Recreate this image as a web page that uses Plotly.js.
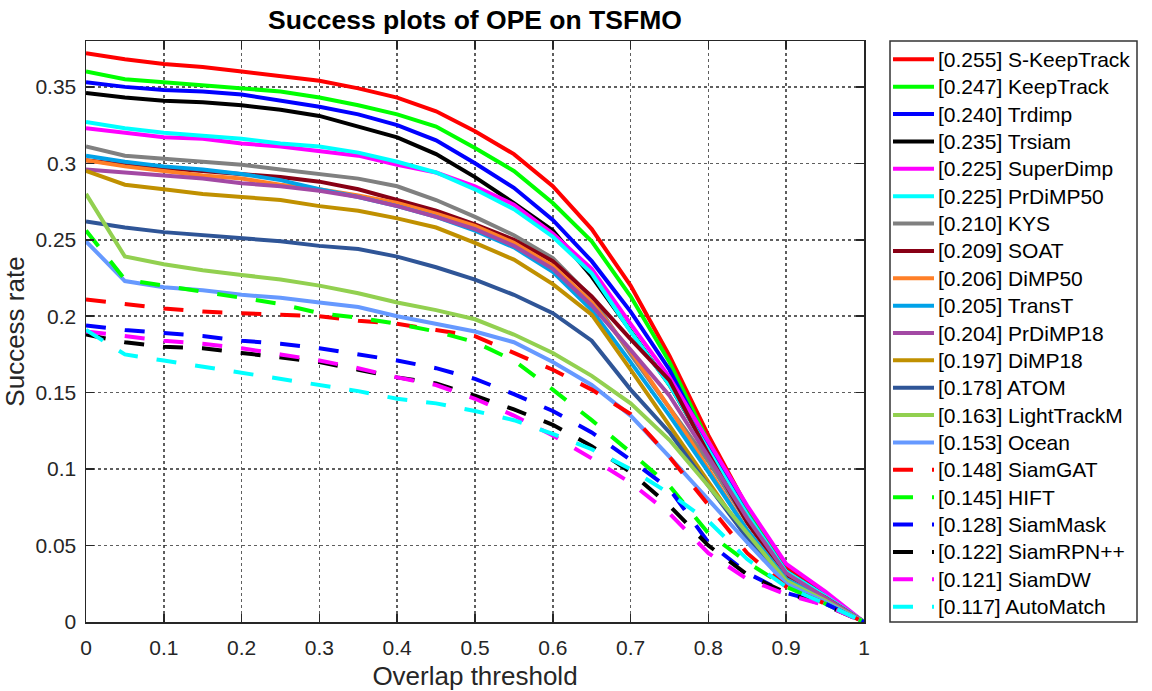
<!DOCTYPE html>
<html>
<head>
<meta charset="utf-8">
<script src="https://cdn.plot.ly/plotly-3.0.1.min.js"></script>
<style>
  html, body { margin: 0; padding: 0; background: #fff; }
  #chart { width: 1152px; height: 691px; }
</style>
</head>
<body>
<div id="chart"></div>
<script>
// overlap thresholds 0:0.05:1
let thresholds = [0, 0.05, 0.1, 0.15, 0.2, 0.25, 0.3, 0.35, 0.4, 0.45, 0.5,
                  0.55, 0.6, 0.65, 0.7, 0.75, 0.8, 0.85, 0.9, 0.95, 1];

let names = ['S-KeepTrack', 'KeepTrack', 'Trdimp', 'Trsiam', 'SuperDimp', 'PrDiMP50',
             'KYS', 'SOAT', 'DiMP50', 'TransT', 'PrDiMP18', 'DiMP18', 'ATOM',
             'LightTrackM', 'Ocean', 'SiamGAT', 'HIFT', 'SiamMask', 'SiamRPN++',
             'SiamDW', 'AutoMatch'];
let auc = ['0.255', '0.247', '0.240', '0.235', '0.225', '0.225', '0.210', '0.209',
           '0.206', '0.205', '0.204', '0.197', '0.178', '0.163', '0.153', '0.148',
           '0.145', '0.128', '0.122', '0.121', '0.117'];

// success rate curves
let sKeepTrack  = [0.372, 0.368, 0.365, 0.363, 0.360, 0.357, 0.354, 0.349, 0.343, 0.334, 0.321, 0.306, 0.285, 0.257, 0.220, 0.174, 0.122, 0.075, 0.036, 0.018, 0];
let keepTrack   = [0.360, 0.355, 0.353, 0.351, 0.349, 0.347, 0.343, 0.338, 0.332, 0.324, 0.310, 0.295, 0.274, 0.249, 0.213, 0.170, 0.118, 0.072, 0.033, 0.017, 0];
let trdimp      = [0.353, 0.350, 0.348, 0.347, 0.345, 0.341, 0.337, 0.332, 0.325, 0.315, 0.300, 0.284, 0.263, 0.236, 0.203, 0.165, 0.115, 0.070, 0.033, 0.017, 0];
let trsiam      = [0.346, 0.343, 0.341, 0.340, 0.338, 0.335, 0.331, 0.324, 0.317, 0.306, 0.291, 0.274, 0.256, 0.226, 0.190, 0.155, 0.112, 0.068, 0.033, 0.017, 0];
let superDimp   = [0.323, 0.320, 0.317, 0.316, 0.313, 0.311, 0.308, 0.305, 0.299, 0.294, 0.285, 0.273, 0.254, 0.231, 0.195, 0.160, 0.118, 0.076, 0.038, 0.020, 0];
let prDiMP50    = [0.327, 0.323, 0.320, 0.318, 0.316, 0.313, 0.311, 0.307, 0.301, 0.294, 0.283, 0.270, 0.252, 0.228, 0.190, 0.155, 0.113, 0.070, 0.033, 0.017, 0];
let kys         = [0.311, 0.305, 0.303, 0.301, 0.299, 0.296, 0.293, 0.290, 0.285, 0.276, 0.265, 0.253, 0.238, 0.212, 0.175, 0.140, 0.105, 0.065, 0.030, 0.016, 0];
let soat        = [0.302, 0.299, 0.297, 0.295, 0.293, 0.291, 0.288, 0.283, 0.276, 0.269, 0.260, 0.250, 0.236, 0.213, 0.185, 0.158, 0.110, 0.065, 0.030, 0.016, 0];
let diMP50      = [0.302, 0.298, 0.295, 0.292, 0.290, 0.286, 0.283, 0.279, 0.274, 0.267, 0.259, 0.248, 0.233, 0.209, 0.177, 0.140, 0.100, 0.060, 0.028, 0.015, 0];
let transT      = [0.305, 0.301, 0.298, 0.296, 0.293, 0.289, 0.283, 0.278, 0.272, 0.265, 0.256, 0.245, 0.229, 0.204, 0.170, 0.135, 0.098, 0.060, 0.028, 0.015, 0];
let prDiMP18    = [0.296, 0.294, 0.292, 0.290, 0.287, 0.285, 0.282, 0.278, 0.272, 0.265, 0.257, 0.246, 0.231, 0.207, 0.178, 0.148, 0.108, 0.068, 0.032, 0.016, 0];
let diMP18      = [0.295, 0.286, 0.283, 0.280, 0.278, 0.276, 0.272, 0.269, 0.264, 0.258, 0.248, 0.237, 0.221, 0.201, 0.165, 0.128, 0.092, 0.055, 0.025, 0.013, 0];
let atom        = [0.262, 0.258, 0.255, 0.253, 0.251, 0.249, 0.246, 0.244, 0.239, 0.232, 0.224, 0.214, 0.202, 0.184, 0.152, 0.124, 0.089, 0.055, 0.025, 0.013, 0];
let lightTrackM = [0.280, 0.239, 0.234, 0.230, 0.227, 0.224, 0.220, 0.215, 0.209, 0.204, 0.198, 0.188, 0.176, 0.161, 0.143, 0.119, 0.089, 0.058, 0.027, 0.014, 0];
let ocean       = [0.249, 0.223, 0.219, 0.217, 0.214, 0.212, 0.209, 0.206, 0.200, 0.195, 0.190, 0.183, 0.170, 0.155, 0.135, 0.108, 0.080, 0.052, 0.025, 0.013, 0];
let siamGAT     = [0.211, 0.208, 0.205, 0.203, 0.202, 0.201, 0.200, 0.197, 0.195, 0.191, 0.187, 0.176, 0.165, 0.152, 0.136, 0.108, 0.076, 0.045, 0.023, 0.012, 0];
let hift        = [0.256, 0.224, 0.220, 0.216, 0.212, 0.208, 0.202, 0.199, 0.195, 0.190, 0.183, 0.171, 0.152, 0.132, 0.111, 0.089, 0.058, 0.039, 0.023, 0.012, 0];
let siamMask    = [0.194, 0.191, 0.189, 0.187, 0.184, 0.182, 0.179, 0.175, 0.171, 0.166, 0.159, 0.149, 0.138, 0.124, 0.106, 0.087, 0.052, 0.032, 0.019, 0.012, 0];
let siamRPNpp   = [0.188, 0.183, 0.180, 0.179, 0.176, 0.173, 0.170, 0.165, 0.160, 0.156, 0.148, 0.139, 0.129, 0.115, 0.098, 0.076, 0.050, 0.031, 0.019, 0.011, 0];
let siamDW      = [0.190, 0.187, 0.184, 0.182, 0.179, 0.175, 0.171, 0.166, 0.160, 0.155, 0.146, 0.135, 0.122, 0.107, 0.091, 0.071, 0.045, 0.028, 0.018, 0.011, 0];
let autoMatch   = [0.191, 0.175, 0.171, 0.167, 0.163, 0.159, 0.155, 0.151, 0.146, 0.143, 0.138, 0.132, 0.123, 0.113, 0.100, 0.084, 0.066, 0.041, 0.023, 0.012, 0];

let curves = [sKeepTrack, keepTrack, trdimp, trsiam, superDimp, prDiMP50, kys, soat,
              diMP50, transT, prDiMP18, diMP18, atom, lightTrackM, ocean, siamGAT,
              hift, siamMask, siamRPNpp, siamDW, autoMatch];

let colors = ['#ff0000', '#00ff00', '#0000ff', '#000000', '#ff00ff', '#00ffff',
              '#808080', '#880015', '#ff7f27', '#00a2e8', '#a349a4', '#c09000',
              '#2f5597', '#92d050', '#6699ff',
              '#ff0000', '#00ff00', '#0000ff', '#000000', '#ff00ff', '#00ffff'];

let fontName = 'Liberation Sans, Arial, sans-serif';
let dashed = '20px,19px';

//first 15 trackers solid, the rest dashed
let traces = [];
for (let i = 0; i < names.length; i++) {
    traces.push({
        x: thresholds,
        y: curves[i],
        type: 'scatter',
        mode: 'lines',
        name: '[' + auc[i] + '] ' + names[i],
        line: {
            color: colors[i],
            width: 4,
            dash: i < 15 ? 'solid' : dashed,
        },
    });
}

// legend box drawn by hand so the rows keep MATLAB spacing (paper coords, plot is 778x581 px)
let plotW = 778, plotH = 581;
let legLeft = 1 + 26 / plotW, legRight = 1 + 273 / plotW;
let rowTop = 18.3, rowStep = 27.37;
let shapes = [{
    type: 'rect', xref: 'paper', yref: 'paper',
    x0: legLeft, x1: legRight, y0: 0, y1: 1,
    fillcolor: '#ffffff',
    line: {color: '#333333', width: 1.5},
}];
let annotations = [];
for (let i = 0; i < names.length; i++) {
    let yy = 1 - (rowTop + rowStep * i) / plotH;
    shapes.push({
        type: 'line', xref: 'paper', yref: 'paper',
        x0: 1 + 29 / plotW, x1: 1 + 70 / plotW, y0: yy, y1: yy,
        line: {color: colors[i], width: 4, dash: i < 15 ? 'solid' : dashed},
    });
    annotations.push({
        xref: 'paper', yref: 'paper',
        x: 1 + 72 / plotW, y: yy,
        xanchor: 'left', yanchor: 'middle',
        showarrow: false,
        text: '[' + auc[i] + '] ' + names[i],
        font: {family: fontName, size: 21, color: '#000000'},
    });
}

let axisFont = {family: fontName, size: 21, color: '#262626'};

let layout = {
    width: 1152,
    height: 691,
    margin: {l: 86, r: 288, t: 41, b: 69},
    paper_bgcolor: '#ffffff',
    plot_bgcolor: '#ffffff',
    font: {family: fontName, color: '#000000'},
    showlegend: false,
    title: {
        text: '<b>Success plots of OPE on TSFMO</b>',
        font: {family: fontName, size: 26.5, color: '#000000'},
        x: 0.4123, xanchor: 'center',
        y: 0.971, yanchor: 'middle',
    },
    xaxis: {
        range: [0, 1],
        dtick: 0.1,
        tick0: 0,
        ticks: 'inside',
        ticklen: 8,
        tickwidth: 1.5,
        tickcolor: '#262626',
        showline: true,
        linecolor: '#262626',
        linewidth: 1.5,
        mirror: 'ticks',
        showgrid: true,
        gridcolor: 'rgba(40,40,40,0.75)',
        griddash: 'dot',
        gridwidth: 1.5,
        zeroline: false,
        tickfont: axisFont,
        ticklabelstandoff: 6,
        title: {text: 'Overlap threshold', font: {family: fontName, size: 26, color: '#262626'}, standoff: 10},
    },
    yaxis: {
        range: [0, 0.38],
        dtick: 0.05,
        tick0: 0,
        ticks: 'inside',
        ticklen: 8,
        tickwidth: 1.5,
        tickcolor: '#262626',
        showline: true,
        linecolor: '#262626',
        linewidth: 1.5,
        mirror: 'ticks',
        showgrid: true,
        gridcolor: 'rgba(40,40,40,0.75)',
        griddash: 'dot',
        gridwidth: 1.5,
        zeroline: false,
        tickfont: axisFont,
        ticklabelstandoff: 4,
        title: {text: 'Success rate', font: {family: fontName, size: 26, color: '#262626'}, standoff: 12},
    },
    shapes: shapes,
    annotations: annotations,
};

Plotly.newPlot('chart', traces, layout, {staticPlot: true, displayModeBar: false});
</script>
</body>
</html>
